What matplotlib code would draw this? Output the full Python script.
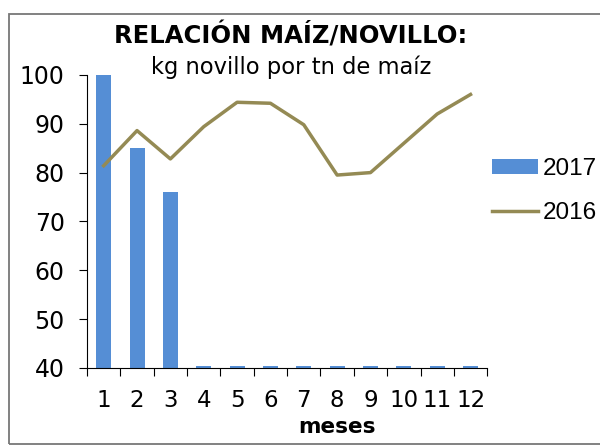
import matplotlib
matplotlib.use('Agg')
import matplotlib.pyplot as plt
import numpy as np

meses = [1, 2, 3, 4, 5, 6, 7, 8, 9, 10, 11, 12]
valores_2017 = [100, 85, 76, 0, 0, 0, 0, 0, 0, 0, 0, 0]
valores_2016 = [81.4, 88.6, 82.8, 89.4, 94.4, 94.2, 89.8, 79.5, 80.0, 86.0, 92.0, 96.0]

ymin, ymax = 40, 100

fig = plt.figure(figsize=(6, 4.46), dpi=100)
ax = fig.add_axes([0.145, 0.175, 0.667, 0.657])

# outer chart frame (Excel style)
frame = plt.Rectangle((8.5 / 600, 2.5 / 446), 1.2, 1 - 16.5 / 446, transform=fig.transFigure,
                      fill=False, edgecolor='#777777', linewidth=1.3, clip_on=False)
fig.patches.append(frame)

x = np.arange(len(meses))
# values under the axis minimum show as a thin dash on the axis
alturas = np.maximum(np.array(valores_2017, dtype=float), ymin + 0.35) - ymin
barras = ax.bar(x, alturas, bottom=ymin, width=0.45, color='#558ED5', label='2017', zorder=2)
linea, = ax.plot(x, valores_2016, color='#948A54', linewidth=2.5, label='2016', zorder=3)

ax.set_xlim(-0.5, len(meses) - 0.5)
ax.set_ylim(ymin, ymax)
ax.set_yticks(np.arange(40, 101, 10))
ax.tick_params(axis='y', labelsize=17, length=6, direction='out', width=0.8, pad=10)

ax.set_xticks(x)
ax.set_xticklabels([str(m) for m in meses], fontsize=16.5)
ax.tick_params(axis='x', length=0, pad=15)
ax.set_xticks(np.arange(-0.5, len(meses), 1), minor=True)
ax.tick_params(axis='x', which='minor', length=6, direction='out', width=0.8)

for s in ['top', 'right']:
    ax.spines[s].set_visible(False)
for s in ['left', 'bottom']:
    ax.spines[s].set_linewidth(0.8)

ax.set_xlabel('meses', fontsize=15.5, fontweight='bold', va='center')
ax.xaxis.set_label_coords(0.625, -0.2)

fig.text(0.485, 0.921, 'RELACIÓN MAÍZ/NOVILLO:', ha='center', va='center',
         fontsize=17.5, fontweight='bold')
fig.text(0.485, 0.85, 'kg novillo por tn de maíz', ha='center', va='center', fontsize=16.3)

leg = fig.legend([barras, linea], ['2017', '2016'], loc='center left',
                 bbox_to_anchor=(492 / 600, 1 - 191 / 446), bbox_transform=fig.transFigure,
                 frameon=False, prop={'family': 'Liberation Sans', 'size': 17.5},
                 handlelength=1.9, handleheight=0.6, handletextpad=0.2,
                 labelspacing=0.9, borderaxespad=0, borderpad=0)

plt.savefig('out.png', dpi=100)
